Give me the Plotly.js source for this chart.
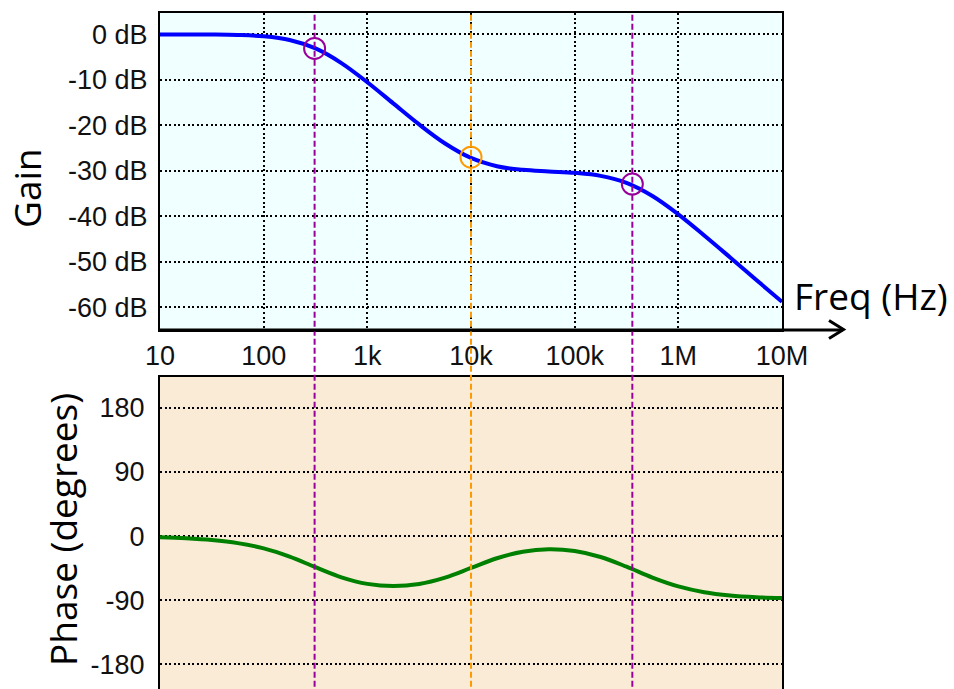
<!DOCTYPE html>
<html><head><meta charset="utf-8">
<script src="https://cdn.plot.ly/plotly-3.0.1.min.js"></script>
<style>html,body{margin:0;padding:0;background:#fff}</style>
</head><body><div id="chart" style="width:954px;height:689px"></div>
<script>
// ---- data ----
const freq = [10, 17.78, 31.62, 56.23, 100, 177.8, 316.2, 562.3, 1000, 1778, 3162, 5623, 10000, 17783, 31623, 56234, 100000, 177828, 316228, 562341, 1000000, 1778279, 3162278, 5623413, 10000000];
const gainDb = [-0.005, -0.014, -0.045, -0.14, -0.43, -1.23, -3.09, -6.31, -10.53, -15.17, -19.80, -23.99, -27.17, -28.99, -29.79, -30.14, -30.45, -31.11, -32.65, -35.54, -39.57, -44.22, -49.05, -53.95, -58.8];
const phaseDeg = [-1.79, -3.18, -5.64, -9.96, -17.33, -28.85, -43.81, -58.0, -67.23, -70.31, -67.35, -58.39, -44.81, -31.19, -22.01, -18.64, -21.05, -29.41, -43.05, -58.36, -70.75, -78.87, -83.4, -85.9, -87.2];
const markFreq = [310, 10000, 360000];
const markGain = [-3.1, -27.0, -32.9];
const markColors = ['#990099', '#ff9900', '#990099'];
const freqTicks = [10, 100, 1000, 10000, 100000, 1000000, 10000000];
const freqLabels = ['10', '100', '1k', '10k', '100k', '1M', '10M'];
const gainTicks = [0, -10, -20, -30, -40, -50, -60];
const gainLabels = ['0 dB', '-10 dB', '-20 dB', '-30 dB', '-40 dB', '-50 dB', '-60 dB'];
const phaseTicks = [180, 90, 0, -90, -180];
const phaseLabels = ['180', '90', '0', '-90', '-180'];

// ---- geometry helpers (pixel -> paper) ----
const W = 954, H = 689, ML = 160, MR = 172, MT = 13, MB = 0;
const PW = W - ML - MR, PH = H - MT - MB;
const xp = px => (px - ML) / PW;
const yp = py => (H - MB - py) / PH;

const tickFont = {family: 'Liberation Sans, Arial, sans-serif', size: 27, color: '#111'};
const titleFont = {family: 'Open Sans, Noto Sans, sans-serif', size: 37, color: '#000'};
const gridDash = '2px,2.6px';

const traces = [
  {x: freq, y: gainDb, xaxis: 'x', yaxis: 'y', mode: 'lines', line: {color: '#0000ff', width: 4, shape: 'spline'}, hoverinfo: 'skip'},
  {x: markFreq, y: markGain, xaxis: 'x', yaxis: 'y', mode: 'markers',
   marker: {symbol: 'circle-open', size: 21, color: markColors, line: {width: 2}}, hoverinfo: 'skip'},
  {x: freq, y: phaseDeg, xaxis: 'x2', yaxis: 'y2', mode: 'lines', line: {color: '#008000', width: 4, shape: 'spline'}, hoverinfo: 'skip'}
];

const phaseRange = [-215, 223.6];
const shapes = [{
  type: 'rect', xref: 'x2 domain', yref: 'y2 domain', x0: 0, x1: 1, y0: 0, y1: 1,
  fillcolor: '#faebd7', line: {width: 0}, layer: 'below'
}];
markFreq.forEach((f, i) => shapes.push({
  type: 'line', xref: 'x', yref: 'paper', x0: f, x1: f, y0: -0.05, y1: 1,
  line: {color: markColors[i], width: 2, dash: '6px,3px'}, layer: 'above'
}));
shapes.push({type: 'line', xref: 'paper', yref: 'paper', x0: xp(159), x1: xp(843), y0: yp(330), y1: yp(330), line: {color: '#000', width: 3}});
shapes.push({type: 'path', xref: 'paper', yref: 'paper',
  path: `M ${xp(829)} ${yp(320.5)} L ${xp(843.5)} ${yp(329.5)} L ${xp(829)} ${yp(338.5)}`,
  line: {color: '#000', width: 3}});

const layout = {
  width: W, height: H, margin: {l: ML, r: MR, t: MT, b: MB, pad: 0},
  paper_bgcolor: '#ffffff', showlegend: false,
  xaxis: {type: 'log', range: [1, 7], domain: [0, 1], anchor: 'y', tickvals: freqTicks, ticktext: freqLabels,
    tickfont: tickFont, ticks: '', ticklabelstandoff: 1, showgrid: true, gridcolor: '#000', gridwidth: 2, griddash: gridDash,
    showline: true, linecolor: '#000', linewidth: 2, mirror: true, zeroline: false},
  yaxis: {range: [-65, 4.7], domain: [yp(330), 1], anchor: 'x', tickvals: gainTicks, ticktext: gainLabels,
    tickfont: tickFont, ticks: '', ticklabelstandoff: 5, showgrid: true, gridcolor: '#000', gridwidth: 2, griddash: gridDash,
    showline: true, linecolor: '#000', linewidth: 2, mirror: true, zeroline: false},
  xaxis2: {type: 'log', range: [1, 7], domain: [0, 1], anchor: 'y2', side: 'top', showticklabels: false, ticks: '',
    showgrid: false, showline: true, linecolor: '#000', linewidth: 2, zeroline: false},
  yaxis2: {range: phaseRange, domain: [0, yp(377)], anchor: 'x2', tickvals: phaseTicks, ticktext: phaseLabels,
    tickfont: tickFont, ticks: '', ticklabelstandoff: 8, showgrid: true, gridcolor: '#000', gridwidth: 2, griddash: gridDash,
    showline: true, linecolor: '#000', linewidth: 2, mirror: true, zeroline: false},
  plot_bgcolor: '#f0ffff',
  shapes: shapes,
  annotations: [
    {text: 'Freq (Hz)', xref: 'paper', yref: 'paper', x: xp(792), y: yp(295), xanchor: 'left', yanchor: 'middle', showarrow: false, font: titleFont},
    {text: 'Gain', xref: 'paper', yref: 'paper', x: xp(26), y: yp(188), xanchor: 'center', yanchor: 'middle', textangle: -90, showarrow: false, font: titleFont},
    {text: 'Phase (degrees)', xref: 'paper', yref: 'paper', x: xp(62), y: yp(530), xanchor: 'center', yanchor: 'middle', textangle: -90, showarrow: false, font: titleFont}
  ]
};

Plotly.newPlot('chart', traces, layout, {staticPlot: true, displayModeBar: false});
</script>
</body></html>
